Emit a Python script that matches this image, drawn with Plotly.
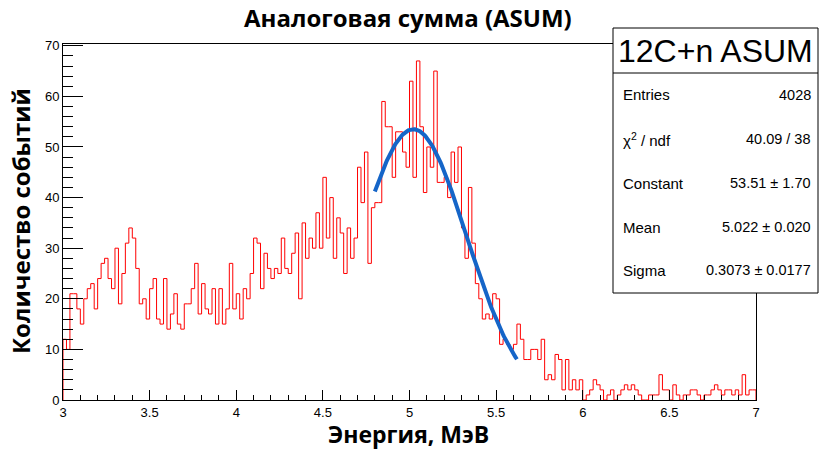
import numpy as np
import plotly.graph_objects as go

# Histogram: 200 bins from 3 to 7 MeV
x_min = 3.0
x_max = 7.0
n_bins = 200
counts = [
    12, 10, 21, 21, 18, 15, 20, 22, 23, 18, 24, 27, 28, 24, 22, 30, 19, 25, 31, 34,
    32, 26, 19, 20, 16, 22, 24, 16, 15, 24, 14, 17, 21, 15, 14, 19, 19, 22, 27, 17,
    23, 18, 17, 22, 15, 22, 15, 18, 27, 18, 21, 16, 22, 20, 25, 32, 31, 22, 29, 26,
    24, 26, 25, 32, 26, 25, 29, 33, 20, 35, 28, 32, 30, 37, 30, 44, 32, 40, 28, 36,
    33, 25, 34, 28, 32, 46, 39, 49, 27, 38, 39, 39, 59, 54, 54, 44, 53, 53, 49, 46,
    63, 44, 67, 54, 41, 50, 46, 65, 43, 43, 44, 40, 49, 43, 50, 34, 28, 42, 31, 23,
    20, 16, 17, 16, 21, 20, 11, 12, 11, 10, 11, 15, 12, 8, 8, 10, 10, 8, 12, 4,
    5, 4, 9, 8, 2, 8, 2, 4, 2, 4, 0, 1, 2, 4, 3, 2, 0, 1, 2, 0,
    1, 2, 3, 2, 3, 2, 1, 0, 0, 1, 1, 1, 5, 2, 2, 0, 3, 1, 0, 1,
    1, 2, 2, 1, 0, 1, 1, 2, 3, 2, 1, 2, 2, 1, 2, 1, 5, 1, 2, 2,
]

# Gaussian fit parameters (from stat box)
fit_const = 53.51
fit_mean = 5.022
fit_sigma = 0.3073
fit_range = (4.8, 5.62)

stat_title = "12C+n ASUM"
stat_labels = ["Entries", "χ<sup>2</sup> / ndf", "Constant", "Mean", "Sigma"]
stat_values = ["4028", "40.09 / 38", "53.51 ± 1.70", "5.022 ± 0.020", "0.3073 ± 0.0177"]

W, H = 819, 449
L, R, T, B = 63, 63, 44, 49
pw = W - L - R
ph = H - T - B


def px(xp):
    return (xp - L) / pw


def py(yp):
    return (H - B - yp) / ph


edges = np.linspace(x_min, x_max, n_bins + 1)
hx = [edges[0]] + list(edges) + [edges[-1]]
hy = [0] + list(counts) + [counts[-1], 0]

fx = np.linspace(fit_range[0], fit_range[1], 200)
fy = fit_const * np.exp(-0.5 * ((fx - fit_mean) / fit_sigma) ** 2)

fig = go.Figure()
fig.add_trace(go.Scatter(x=hx, y=hy, mode="lines", line=dict(color="#ff0000", width=1, shape="hv"),
                         hoverinfo="skip", showlegend=False))
fig.add_trace(go.Scatter(x=fx, y=fy, mode="lines", line=dict(color="#1565c8", width=4),
                         hoverinfo="skip", showlegend=False))

tickfont = dict(family="Liberation Sans, Arial, sans-serif", size=13, color="black")
fig.update_layout(
    width=W, height=H,
    margin=dict(l=L, r=R, t=T, b=B),
    paper_bgcolor="white", plot_bgcolor="white",
    showlegend=False,
    xaxis=dict(range=[x_min, x_max], showgrid=False, zeroline=False,
               showline=True, linecolor="black", linewidth=1, mirror=True,
               ticks="inside", ticklen=10, tickcolor="black", tickwidth=1,
               dtick=0.5, tick0=3, tickfont=tickfont,
               minor=dict(ticks="inside", ticklen=5, dtick=0.1, tickcolor="black", showgrid=False)),
    yaxis=dict(range=[0, 70.35], showgrid=False, zeroline=False,
               showline=True, linecolor="black", linewidth=1, mirror=True,
               ticks="inside", ticklen=20, tickcolor="black", tickwidth=1,
               dtick=10, tick0=0, tickfont=tickfont,
               minor=dict(ticks="inside", ticklen=10, dtick=2, tickcolor="black", showgrid=False)),
)

titlefont = dict(family="Open Sans, DejaVu Sans, sans-serif", size=24, color="black", weight="bold")
axfont = dict(family="Open Sans, DejaVu Sans, sans-serif", size=23, color="black", weight="bold")
ann = [
    dict(text="Аналоговая сумма (ASUM)", x=px(408), y=py(18), xref="paper", yref="paper",
         showarrow=False, font=titlefont, xanchor="center", yanchor="middle"),
    dict(text="Энергия, МэВ", x=px(408), y=py(434), xref="paper", yref="paper",
         showarrow=False, font=axfont, xanchor="center", yanchor="middle", borderpad=0),
    dict(text="Количество событий", x=px(20), y=py(221), xref="paper", yref="paper",
         showarrow=False, font=dict(axfont, size=24), xanchor="center", yanchor="middle", textangle=-90),
]

# stat box
bx0, bx1, by0, by1, bsep = 613, 818, 28, 293, 73
shapes = [
    dict(type="rect", xref="paper", yref="paper", x0=px(bx0), x1=px(bx1), y0=py(by1), y1=py(by0),
         line=dict(color="black", width=1), fillcolor="white", layer="above"),
    dict(type="line", xref="paper", yref="paper", x0=px(bx0), x1=px(bx1), y0=py(bsep), y1=py(bsep),
         line=dict(color="black", width=1), layer="above"),
]
labfont = dict(family="Liberation Sans, Arial, sans-serif", size=15, color="black")
valfont = dict(family="Liberation Sans, Arial, sans-serif", size=14.5, color="black")
ann.append(dict(text=stat_title, x=px((bx0 + bx1) / 2), y=py(51), xref="paper", yref="paper",
                showarrow=False, xanchor="center", yanchor="middle",
                font=dict(family="Liberation Sans, Arial, sans-serif", size=32, color="black")))
row_y = [95, 139, 183, 227, 270]
for lab, val, yy in zip(stat_labels, stat_values, row_y):
    ann.append(dict(text=lab, x=px(621), y=py(yy), xref="paper", yref="paper", showarrow=False,
                    xanchor="left", yanchor="middle", font=labfont))
    ann.append(dict(text=val, x=px(813), y=py(yy), xref="paper", yref="paper", showarrow=False,
                    xanchor="right", yanchor="middle", font=valfont))

fig.update_layout(annotations=ann, shapes=shapes)
fig.write_html("out.html")
